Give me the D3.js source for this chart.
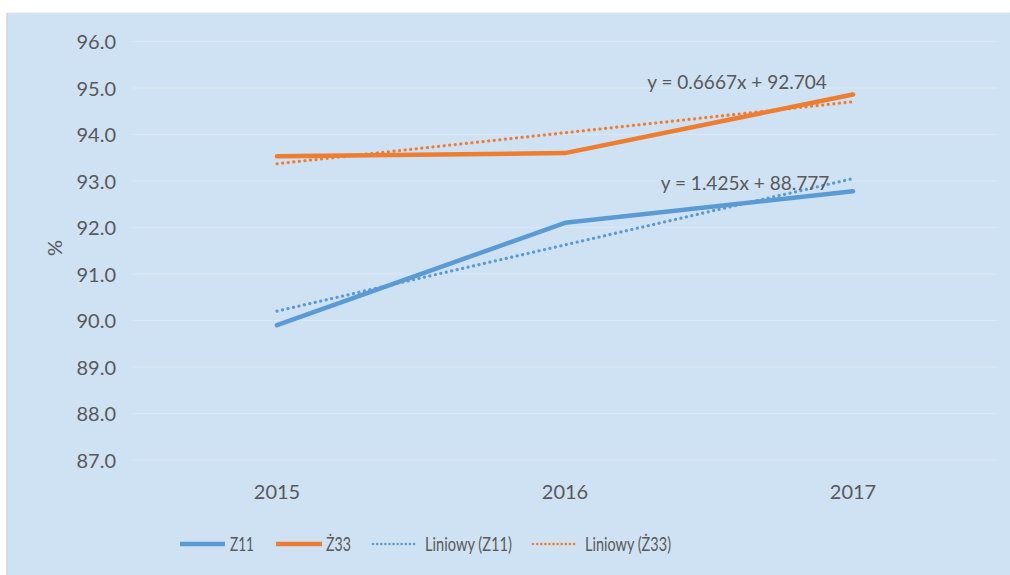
<!DOCTYPE html>
<html><head><meta charset="utf-8">
<script src="https://cdn.jsdelivr.net/npm/d3@7"></script>
<style>body{margin:0;background:#fff;} text{font-family:Lato,"Open Sans",sans-serif;}</style>
</head><body>
<svg id="c" width="1010" height="575"></svg>
<script>
const categories = ["2015", "2016", "2017"];
const z11 = [89.9, 92.1, 92.78];
const z33 = [93.53, 93.6, 94.86];
const yTicks = [87, 88, 89, 90, 91, 92, 93, 94, 95, 96];
const seriesNames = ["Z11", "Ż33", "Liniowy (Z11)", "Liniowy (Ż33)"];
const trendZ11 = {slope: 1.425, intercept: 88.777, label: "y = 1.425x + 88.777"};
const trendZ33 = {slope: 0.6667, intercept: 92.704, label: "y = 0.6667x + 92.704"};

const svg = d3.select("#c");
const blue = "#5B9BD5", orange = "#ED7D31", textCol = "#595959";

svg.append("rect").attr("x", 7).attr("y", 13).attr("width", 1003).attr("height", 562)
  .attr("fill", "#cfe2f3");
svg.append("line").attr("x1", 7).attr("x2", 7).attr("y1", 13).attr("y2", 575).attr("stroke", "#d4d4d4").attr("stroke-width", 1.5);
svg.append("line").attr("x1", 7).attr("x2", 1010).attr("y1", 13).attr("y2", 13).attr("stroke", "#e2e2e2").attr("stroke-width", 1);

const x = d3.scaleBand().domain(categories).range([133, 997]);
const y = d3.scaleLinear().domain([87, 96]).range([460, 41.5]);
const cx = c => x(c) + x.bandwidth() / 2;

// gridlines
svg.append("g").selectAll("line").data(yTicks).join("line")
  .attr("x1", 133).attr("x2", 997)
  .attr("y1", d => y(d)).attr("y2", d => y(d))
  .attr("stroke", "#dae8f5").attr("stroke-width", 1);

// y axis
const yAxis = d3.axisLeft(y).tickValues(yTicks).tickFormat(d3.format(".1f")).tickSize(0).tickPadding(0);
const gy = svg.append("g").attr("transform", "translate(116,0)").call(yAxis);
gy.select(".domain").remove();
gy.selectAll("text").attr("fill", textCol).style("font-size", "20px").attr("dy", "0.35em");

// x axis
const xAxis = d3.axisBottom(x).tickSize(0).tickPadding(0);
const gx = svg.append("g").attr("transform", "translate(0,492)").call(xAxis);
gx.select(".domain").remove();
gx.selectAll("text").attr("fill", textCol).style("font-size", "20px").attr("dy", "0.35em");

// y title
svg.append("text").attr("transform", "translate(55,248) rotate(-90)")
  .attr("text-anchor", "middle").attr("dy", "0.35em").attr("fill", textCol)
  .style("font-size", "20px").text("%");

const line = d3.line().x((d, i) => cx(categories[i])).y(d => y(d));

// trend lines
function trendVals(t) { return categories.map((c, i) => t.intercept + t.slope * (i + 1)); }
const dot = "0.1 5.5";
svg.append("path").datum(trendVals(trendZ11)).attr("d", line).attr("fill", "none")
  .attr("stroke", blue).attr("stroke-width", 3.2).attr("stroke-linecap", "round").attr("stroke-dasharray", dot);
svg.append("path").datum(trendVals(trendZ33)).attr("d", line).attr("fill", "none")
  .attr("stroke", orange).attr("stroke-width", 3.2).attr("stroke-linecap", "round").attr("stroke-dasharray", dot);

// series lines
svg.append("path").datum(z11).attr("d", line).attr("fill", "none")
  .attr("stroke", blue).attr("stroke-width", 4.5).attr("stroke-linecap", "round").attr("stroke-linejoin", "round");
svg.append("path").datum(z33).attr("d", line).attr("fill", "none")
  .attr("stroke", orange).attr("stroke-width", 4.5).attr("stroke-linecap", "round").attr("stroke-linejoin", "round");

// equation labels
svg.append("text").attr("x", 737).attr("y", 82).attr("text-anchor", "middle").attr("dy", "0.35em")
  .attr("fill", textCol).style("font-size", "19px").text(trendZ33.label);
svg.append("text").attr("x", 745).attr("y", 183).attr("text-anchor", "middle").attr("dy", "0.35em")
  .attr("fill", textCol).style("font-size", "19px").text(trendZ11.label);

// legend
const legendItems = [
  {name: seriesNames[0], color: blue, dash: null, x0: 180, x1: 225, tx: 230, w: 24},
  {name: seriesNames[1], color: orange, dash: null, x0: 276, x1: 322, tx: 326, w: 25},
  {name: seriesNames[2], color: blue, dash: "0.1 4", x0: 373, x1: 417, tx: 425, w: 87},
  {name: seriesNames[3], color: orange, dash: "0.1 4", x0: 533, x1: 577, tx: 585, w: 86}
];
const lg = svg.append("g");
legendItems.forEach(it => {
  lg.append("line").attr("x1", it.x0).attr("x2", it.x1).attr("y1", 544).attr("y2", 544)
    .attr("stroke", it.color).attr("stroke-width", it.dash ? 2.5 : 4.5)
    .attr("stroke-linecap", it.dash ? "round" : "butt")
    .attr("stroke-dasharray", it.dash);
  lg.append("text").attr("x", it.tx).attr("y", 544).attr("dy", "0.35em")
    .attr("textLength", it.w).attr("lengthAdjust", "spacingAndGlyphs")
    .attr("fill", textCol).style("font-size", "20px").text(it.name);
});
</script>
</body></html>
